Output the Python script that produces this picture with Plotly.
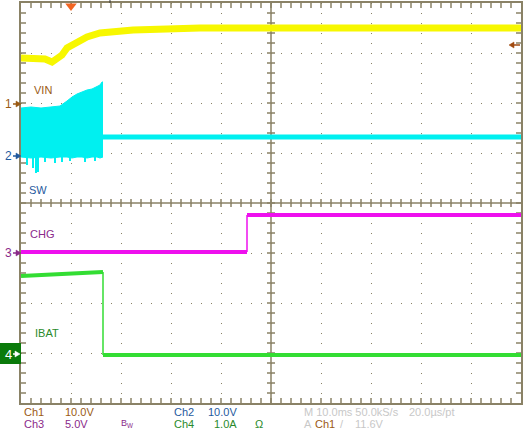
import plotly.graph_objects as go

# ---------------- data (in scope divisions: x 0..10, y -4..4) ----------------
vin_t = [0, 0.48, 0.62, 0.74, 0.82, 0.92, 1.12, 1.32, 1.58, 2.24, 2.92, 3.58, 5.58, 10.0]
vin_v = [2.90, 2.88, 2.82, 2.90, 2.96, 3.10, 3.22, 3.32, 3.40, 3.46, 3.48, 3.50, 3.50, 3.50]

sw_band_t = [0, 0.2, 0.4, 0.6, 0.78, 0.92, 1.02, 1.12, 1.22, 1.32, 1.42, 1.52, 1.58, 1.62, 1.64]
sw_band_top = [1.90, 1.92, 1.90, 1.92, 1.94, 2.04, 2.12, 2.18, 2.22, 2.26, 2.28, 2.32, 2.36, 2.42, 2.42]
sw_band_bot = [0.92, 0.90, 0.92, 0.90, 0.92, 0.92, 0.90, 0.92, 0.92, 0.90, 0.92, 0.92, 0.90, 0.92, 0.92]
sw_spike_t = [0.12, 0.24, 0.30, 0.34, 0.48, 0.68, 0.82, 0.98, 1.28, 1.48]
sw_spike_v = [0.76, 0.70, 0.60, 0.62, 0.82, 0.80, 0.82, 0.84, 0.82, 0.84]
sw_after_t = [1.64, 10.0]
sw_after_v = [1.32, 1.32]

chg_t = [0, 4.52, 4.52, 10.0]
chg_v = [-0.98, -0.98, -0.24, -0.24]

ibat_t = [0, 1.58, 1.64, 1.64, 10.0]
ibat_v = [-1.46, -1.38, -1.38, -3.04, -3.04]

trig_t = 1.0          # trigger position (div)
trig_level = 3.16     # trigger level marker (div)

bottom_row1 = [("Ch1", 22, "#9a5a14"), ("10.0V", 63, "#9a5a14"),
               ("Ch2", 172, "#1f5a9e"), ("10.0V", 206, "#1f5a9e"),
               ("M 10.0ms 50.0kS/s", 302, "#c8c8c8"), ("20.0µs/pt", 407, "#c8c8c8")]
bottom_row2 = [("Ch3", 22, "#8a2a8a"), ("5.0V", 63, "#8a2a8a"),
               ("Ch4", 172, "#2a8a2a"), ("1.0A", 212, "#2a8a2a"), ("Ω", 253, "#2a8a2a"),
               ("A", 302, "#c8c8c8"), ("Ch1", 313, "#9a5a14"), ("/", 338, "#c8c8c8"),
               ("11.6V", 353, "#c8c8c8")]

# ---------------- styling ----------------
GRID = "#8a8266"
YEL = "#f7f700"
CYA = "#00f0f0"
MAG = "#ee10ee"
GRN = "#33dd33"
FONT = "Liberation Sans"

L, T, R, B = 21, 3, 521, 403
def xp(px):
    return (px - L) / (R - L)
def yp(py):
    return (B - py) / (B - T)

fig = go.Figure()

# SW band (filled between envelopes)
fig.add_trace(go.Scatter(x=sw_band_t, y=sw_band_bot, mode="lines",
                         line=dict(color=CYA, width=1), hoverinfo="skip"))
fig.add_trace(go.Scatter(x=sw_band_t, y=sw_band_top, mode="lines", fill="tonexty",
                         fillcolor=CYA, line=dict(color=CYA, width=1), hoverinfo="skip"))
sx, sy = [], []
for t, v in zip(sw_spike_t, sw_spike_v):
    sx += [t, t, None]
    sy += [0.92, v, None]
fig.add_trace(go.Scatter(x=sx, y=sy, mode="lines", line=dict(color=CYA, width=2), hoverinfo="skip"))
fig.add_trace(go.Scatter(x=sw_after_t, y=sw_after_v, mode="lines",
                         line=dict(color=CYA, width=5), hoverinfo="skip"))

# VIN
fig.add_trace(go.Scatter(x=vin_t, y=vin_v, mode="lines",
                         line=dict(color=YEL, width=7), hoverinfo="skip"))

# CHG: thick horizontal levels, thin transition
fig.add_trace(go.Scatter(x=[chg_t[0], chg_t[1], None, chg_t[2], chg_t[3]],
                         y=[chg_v[0], chg_v[1], None, chg_v[2], chg_v[3]], mode="lines",
                         line=dict(color=MAG, width=4), hoverinfo="skip"))
fig.add_trace(go.Scatter(x=chg_t[1:3], y=chg_v[1:3], mode="lines",
                         line=dict(color=MAG, width=1.5), hoverinfo="skip"))

# IBAT
fig.add_trace(go.Scatter(x=[ibat_t[0], ibat_t[1], ibat_t[2], None, ibat_t[3], ibat_t[4]],
                         y=[ibat_v[0], ibat_v[1], ibat_v[2], None, ibat_v[3], ibat_v[4]],
                         mode="lines", line=dict(color=GRN, width=4), hoverinfo="skip"))
fig.add_trace(go.Scatter(x=ibat_t[2:4], y=ibat_v[2:4], mode="lines",
                         line=dict(color=GRN, width=1.5), hoverinfo="skip"))

# ---------------- graticule ----------------
shapes = []
# center cross
shapes.append(dict(type="line", xref="x", yref="y", x0=5, x1=5, y0=-4, y1=4,
                   line=dict(color=GRID, width=1.5), layer="below"))
shapes.append(dict(type="line", xref="x", yref="y", x0=0, x1=10, y0=0, y1=0,
                   line=dict(color=GRID, width=1.5), layer="below"))
# center ticks
for k in range(1, 50):
    x = k * 0.2
    shapes.append(dict(type="line", xref="x", yref="y", x0=x, x1=x, y0=-0.08, y1=0.08,
                       line=dict(color=GRID, width=1.5), layer="below"))
for k in range(1, 40):
    y = -4 + k * 0.2
    shapes.append(dict(type="line", xref="x", yref="y", x0=4.92, x1=5.08, y0=y, y1=y,
                       line=dict(color=GRID, width=1.5), layer="below"))
# border ticks
for k in range(1, 50):
    x = k * 0.2
    shapes.append(dict(type="line", xref="x", yref="y", x0=x, x1=x, y0=4, y1=3.9,
                       line=dict(color=GRID, width=1.5), layer="below"))
    shapes.append(dict(type="line", xref="x", yref="y", x0=x, x1=x, y0=-4, y1=-3.9,
                       line=dict(color=GRID, width=1.5), layer="below"))
for k in range(1, 40):
    y = -4 + k * 0.2
    shapes.append(dict(type="line", xref="x", yref="y", x0=0, x1=0.1, y0=y, y1=y,
                       line=dict(color=GRID, width=1.5), layer="below"))
    shapes.append(dict(type="line", xref="x", yref="y", x0=9.9, x1=10, y0=y, y1=y,
                       line=dict(color=GRID, width=1.5), layer="below"))
# ch4 marker box
shapes.append(dict(type="rect", xref="paper", yref="paper", x0=xp(0), x1=xp(21),
                   y0=yp(364), y1=yp(343), fillcolor="#0a7a0a", line=dict(width=0)))
# small tick at top
shapes.append(dict(type="line", xref="paper", yref="paper", x0=xp(110), x1=xp(110),
                   y0=yp(0), y1=yp(3), line=dict(color="#333333", width=1)))


def arrow(px_tail, px_head, py, color):
    """horizontal arrow drawn as a line plus a small filled head"""
    d = 1 if px_head > px_tail else -1
    shapes.append(dict(type="line", xref="paper", yref="paper",
                       x0=xp(px_tail), x1=xp(px_head - d * 3), y0=yp(py), y1=yp(py),
                       line=dict(color=color, width=1.5)))
    bx = px_head - d * 5
    path = "M {} {} L {} {} L {} {} Z".format(xp(px_head), yp(py), xp(bx), yp(py - 3),
                                              xp(bx), yp(py + 3))
    shapes.append(dict(type="path", xref="paper", yref="paper", path=path,
                       fillcolor=color, line=dict(color=color, width=0.5)))


# trigger position triangle
fig.add_trace(go.Scatter(x=[trig_t], y=[3.94], mode="markers", cliponaxis=False,
                         marker=dict(symbol="triangle-down", size=10, color="#f26522"),
                         hoverinfo="skip"))

ann = []
def text(s, px, py, color, size=10, anchor="left"):
    ann.append(dict(text=s, x=xp(px), y=yp(py), xref="paper", yref="paper",
                    xanchor=anchor, yanchor="middle", showarrow=False,
                    font=dict(family=FONT, size=size, color=color)))

# trace labels
text("VIN", 32, 90, "#9a5a14", 11)
text("SW", 27, 190, "#1f5a9e", 11)
text("CHG", 28, 234, "#8a2a8a", 11)
text("IBAT", 33, 333, "#2a8a2a", 11)
# channel markers
text("1", 8, 104, "#9a5a14", 12, "center")
arrow(13, 21, 104, "#9a5a14")
text("2", 8, 156, "#1f5a9e", 12, "center")
arrow(13, 21, 156, "#1f5a9e")
text("3", 8, 253, "#8a2a8a", 12, "center")
arrow(13, 21, 253, "#8a2a8a")
text("4", 8, 354, "#ffffff", 13, "center")
arrow(13, 20, 354, "#ffffff")
# trigger level arrow on right
arrow(520, 509, 45, "#a04a10")

# bottom readouts
for s, px, c in bottom_row1:
    text(s, px, 412, c, 11)
for s, px, c in bottom_row2:
    text(s, px, 424, c, 11)
text("B<sub>W</sub>", 119, 423, "#8a2a8a", 9)

fig.update_layout(
    width=524, height=430,
    margin=dict(l=L, r=524 - R, t=T, b=430 - B, pad=0, autoexpand=False),
    paper_bgcolor="white", plot_bgcolor="white",
    showlegend=False,
    shapes=shapes, annotations=ann,
    xaxis=dict(range=[0, 10], dtick=1, tick0=0, showgrid=True, gridcolor=GRID,
               gridwidth=1, griddash="1px,9px", showticklabels=False, ticks="",
               zeroline=False, showline=True, mirror=True, linecolor=GRID, linewidth=2,
               fixedrange=True, automargin=False),
    yaxis=dict(range=[-4, 4], dtick=1, tick0=0, showgrid=True, gridcolor=GRID,
               gridwidth=1, griddash="1px,9px", showticklabels=False, ticks="",
               zeroline=False, showline=True, mirror=True, linecolor=GRID, linewidth=2,
               fixedrange=True, automargin=False),
)

fig.write_html("out.html", config={"displayModeBar": False},
               post_script="document.body.style.margin='0';"
                           "document.body.style.overflow='hidden';")
